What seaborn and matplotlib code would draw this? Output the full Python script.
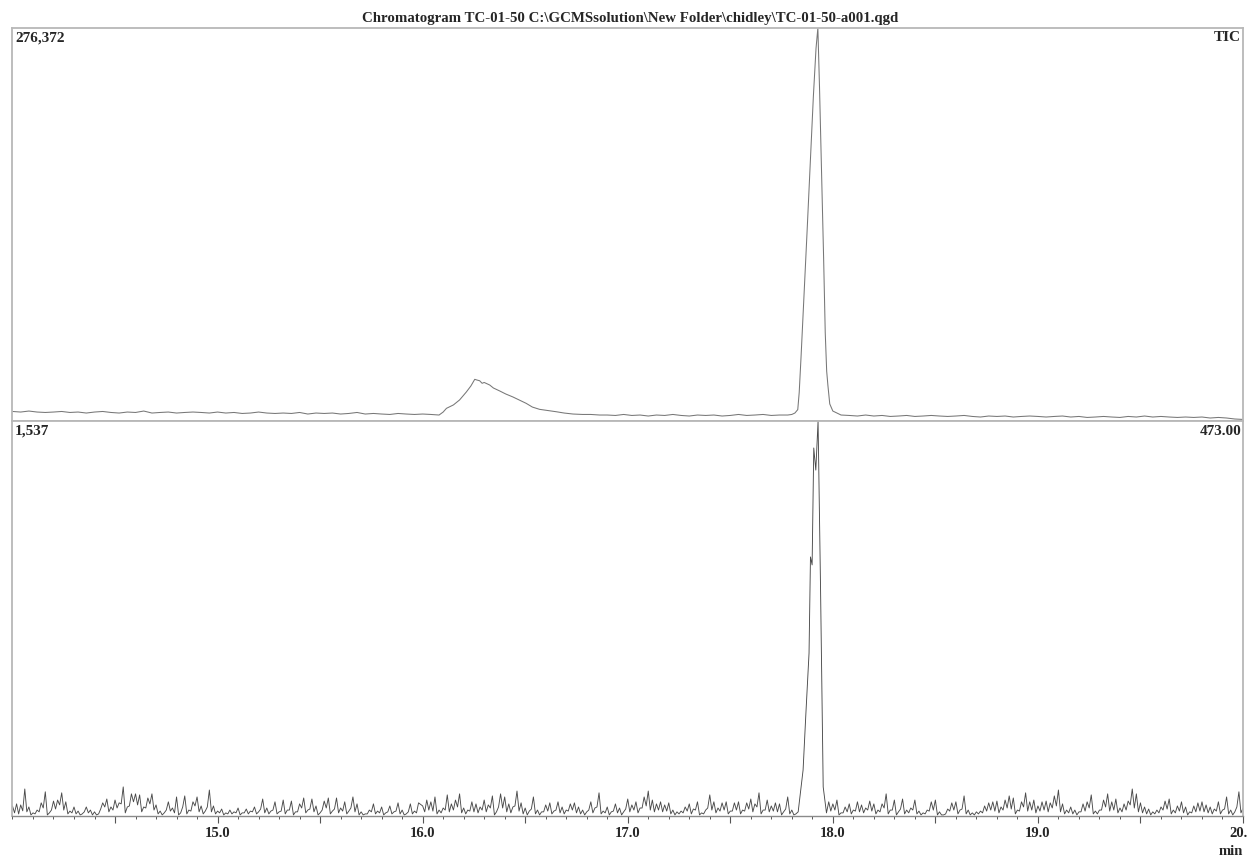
import numpy as np
import pandas as pd
import matplotlib
matplotlib.use("Agg")
import matplotlib.pyplot as plt
from matplotlib.ticker import MultipleLocator
from matplotlib.transforms import ScaledTranslation
import seaborn as sns

TITLE = r"Chromatogram TC-01-50 C:\GCMSsolution\New Folder\chidley\TC-01-50-a001.qgd"

# --- TIC trace (intensity in thousands of counts) ---
# baseline 14.00 -> 16.08 min, sampled every 0.04 min
tic_base_a = [6.7, 6.3, 7.0, 6.3, 6.0, 6.3, 6.7, 6.0, 6.3, 5.6,
              6.3, 6.7, 6.0, 5.6, 6.3, 6.0, 7.0, 5.6, 6.0, 6.3,
              5.6, 6.0, 6.3, 6.0, 5.6, 6.3, 5.6, 6.0, 5.3, 5.6,
              6.3, 5.6, 5.3, 5.6, 5.3, 6.0, 4.9, 5.6, 5.3, 5.6,
              4.9, 5.3, 6.0, 4.9, 5.3, 4.9, 4.6, 5.3, 4.9, 4.6,
              4.9, 4.6, 4.2]
# broad hump around 16.3 min
hump_time = [16.10, 16.116, 16.15, 16.18, 16.213, 16.235, 16.254, 16.265, 16.278,
             16.29, 16.30, 16.327, 16.345, 16.376, 16.405, 16.44, 16.47, 16.505,
             16.535, 16.57, 16.61, 16.652, 16.69, 16.733, 16.78, 16.82, 16.863]
hump_value = [6.3, 8.9, 11.3, 14.8, 20.4, 24.6, 29.3, 28.8, 28.3,
              26.5, 27.1, 25.3, 23.2, 21.1, 19.0, 16.9, 14.8, 12.4,
              9.8, 8.2, 7.4, 6.5, 5.6, 4.9, 4.6, 4.6, 4.2]
# baseline 16.90 -> 17.78 min
tic_base_b = [4.2, 3.9, 4.6, 3.9, 4.2, 3.5, 4.2, 3.9, 4.6, 3.9,
              3.5, 4.2, 3.9, 4.2, 3.5, 3.9, 4.6, 3.9, 4.2, 4.6,
              3.9, 4.2, 4.2]
# main peak at 17.93 min
peak_time = [17.80, 17.815, 17.829, 17.836, 17.845, 17.860, 17.875, 17.890, 17.905,
             17.918, 17.927, 17.935, 17.945, 17.955, 17.963, 17.970, 17.976, 17.985, 18.00]
peak_value = [4.6, 5.6, 8.0, 20.0, 45.0, 90.0, 135.0, 182.0, 228.0,
              262.0, 276.37, 235.0, 175.0, 115.0, 62.0, 35.0, 25.0, 12.0, 7.0]
# baseline 18.04 -> 20.00 min
tic_base_c = [4.2, 3.9, 3.5, 4.2, 3.5, 3.9, 3.2, 3.5, 3.9, 3.2,
              3.5, 3.9, 3.5, 3.2, 3.5, 3.9, 3.2, 2.8, 3.5, 3.2,
              3.5, 2.8, 3.2, 3.5, 3.2, 2.8, 3.2, 3.5, 2.8, 3.2,
              2.5, 2.8, 3.2, 2.8, 2.5, 3.2, 2.8, 3.5, 2.8, 3.2,
              2.8, 2.5, 2.8, 2.5, 2.8, 2.1, 2.5, 2.1, 1.4, 1.1]

# --- m/z 473.00 trace (counts), scans every 0.01 min ---
# 14.00 -> 15.98 min: even scans / odd scans
ion_a_even = [39, 47, 43, 105, 35, 12, 23, 51, 94, 12,
              58, 62, 90, 55, 19, 35, 19, 8, 35, 23,
              16, 8, 51, 66, 35, 62, 51, 113, 35, 86,
              86, 82, 35, 70, 86, 43, 19, 12, 55, 31,
              74, 12, 78, 23, 55, 74, 39, 19, 101, 39,
              19, 27, 12, 23, 16, 31, 12, 27, 19, 35,
              16, 66, 31, 19, 55, 16, 62, 23, 58, 16,
              47, 70, 23, 66, 39, 12, 58, 70, 19, 70,
              31, 55, 19, 74, 47, 16, 8, 23, 47, 19,
              35, 12, 39, 16, 51, 23, 8, 47, 19, 51]
ion_a_odd = [12, 8, 20, 16, 4, 8, 16, 31, 4, 23,
             27, 43, 23, 8, 12, 8, 4, 16, 12, 4,
             4, 27, 35, 16, 23, 31, 47, 12, 39, 55,
             43, 16, 31, 47, 23, 8, 4, 23, 19, 12,
             4, 35, 8, 19, 39, 16, 8, 35, 16, 8,
             12, 4, 8, 8, 12, 4, 12, 8, 16, 8,
             27, 12, 8, 23, 8, 19, 8, 23, 4, 16,
             31, 12, 27, 16, 4, 23, 31, 8, 27, 12,
             19, 8, 31, 16, 4, 4, 8, 16, 8, 12,
             4, 16, 8, 19, 8, 4, 16, 8, 12]
# 16.00 -> 17.82 min
ion_b_even = [39, 62, 55, 74, 23, 31, 82, 47, 62, 86,
              31, 23, 55, 47, 35, 62, 43, 78, 16, 86,
              74, 47, 35, 97, 51, 31, 19, 74, 23, 16,
              43, 51, 19, 55, 35, 23, 47, 51, 35, 23,
              16, 55, 31, 90, 19, 35, 16, 47, 31, 16,
              66, 43, 55, 31, 74, 97, 62, 47, 55, 43,
              51, 23, 16, 19, 35, 47, 27, 55, 12, 23,
              82, 55, 31, 51, 55, 19, 51, 55, 23, 51,
              66, 47, 90, 23, 62, 39, 51, 47, 16, 74,
              23, 8]
ion_b_odd = [16, 23, 19, 8, 12, 23, 16, 23, 35, 12,
             8, 19, 16, 12, 23, 16, 31, 4, 35, 31,
             16, 12, 39, 19, 8, 4, 27, 8, 4, 16,
             19, 8, 23, 12, 8, 19, 23, 12, 8, 4,
             23, 12, 35, 8, 12, 4, 19, 12, 4, 27,
             16, 23, 12, 31, 39, 23, 16, 23, 16, 19,
             8, 4, 8, 12, 19, 8, 23, 4, 8, 31,
             23, 12, 19, 23, 8, 19, 23, 8, 19, 27,
             16, 35, 8, 23, 16, 19, 16, 4, 27, 8,
             4]
# the 473 peak
ion_peak_time = [17.831, 17.855, 17.868, 17.884, 17.891, 17.899, 17.907, 17.917,
                 17.928, 17.940, 17.953, 17.969]
ion_peak_value = [16, 179, 389, 634, 1008, 977, 1432, 1346, 1537, 891, 113, 12]
# 17.98 -> 20.00 min
ion_c_even = [55, 47, 62, 12, 35, 47, 23, 55, 43, 31,
              58, 47, 23, 47, 86, 23, 62, 16, 66, 23,
              31, 62, 19, 12, 23, 55, 62, 16, 4, 27,
              51, 55, 23, 78, 23, 12, 16, 19, 39, 51,
              55, 58, 35, 62, 78, 70, 23, 55, 90, 55,
              62, 39, 55, 58, 51, 78, 101, 47, 23, 35,
              23, 16, 47, 55, 82, 19, 23, 62, 86, 55,
              66, 31, 47, 58, 105, 86, 51, 35, 27, 16,
              23, 35, 58, 66, 23, 39, 55, 35, 16, 39,
              51, 55, 43, 35, 27, 55, 23, 74, 23, 16,
              94, 31]
ion_c_odd = [19, 23, 4, 12, 16, 8, 19, 16, 12, 23,
             19, 8, 16, 31, 8, 23, 4, 27, 8, 12,
             23, 8, 4, 8, 19, 23, 4, 4, 8, 19,
             23, 8, 27, 8, 4, 4, 8, 12, 19, 23,
             19, 12, 23, 31, 27, 8, 19, 35, 19, 23,
             12, 19, 23, 16, 31, 39, 16, 8, 12, 8,
             4, 16, 19, 31, 8, 8, 23, 35, 19, 23,
             12, 16, 23, 43, 31, 16, 12, 8, 4, 8,
             12, 23, 27, 8, 12, 19, 12, 4, 12, 16,
             19, 16, 12, 8, 19, 8, 27, 8, 4, 35,
             12]

TIC_MAX = 276.372
ION_MAX = 1537
tick_pos = [14.5, 15.0, 15.5, 16.0, 16.5, 17.0, 17.5, 18.0, 18.5, 19.0, 19.5, 20.0]
tick_text = ["", "15.0", "", "16.0", "", "17.0", "", "18.0", "", "19.0", "", "20."]


def merge_scans(even, odd):
    out = []
    for i, v in enumerate(even):
        out.append(v)
        if i < len(odd):
            out.append(odd[i])
    return out


tic = pd.DataFrame({
    "time": np.concatenate([np.linspace(14.0, 16.08, len(tic_base_a)), hump_time,
                            np.linspace(16.90, 17.78, len(tic_base_b)), peak_time,
                            np.linspace(18.04, 20.0, len(tic_base_c))]),
    "intensity": np.concatenate([tic_base_a, hump_value, tic_base_b, peak_value, tic_base_c]),
})

ion_a = merge_scans(ion_a_even, ion_a_odd)
ion_b = merge_scans(ion_b_even, ion_b_odd)
ion_c = merge_scans(ion_c_even, ion_c_odd)
ion = pd.DataFrame({
    "time": np.concatenate([np.linspace(14.0, 15.98, len(ion_a)),
                            np.linspace(16.0, 17.82, len(ion_b)), ion_peak_time,
                            np.linspace(17.98, 20.0, len(ion_c))]),
    "intensity": np.concatenate([ion_a, ion_b, ion_peak_value, ion_c]),
})

sns.set_style("white")
plt.rcParams["font.family"] = ["Liberation Serif", "DejaVu Serif"]
plt.rcParams["font.weight"] = "bold"

fig = plt.figure(figsize=(12.48, 8.59), dpi=100)
ax_tic = fig.add_axes([0.0100, 0.5099, 0.9860, 0.4575])
ax_ion = fig.add_axes([0.0100, 0.0501, 0.9860, 0.4598])

sns.lineplot(data=tic, x="time", y="intensity", ax=ax_tic, estimator=None, sort=False,
             color="#777777", linewidth=0.75)
sns.lineplot(data=ion, x="time", y="intensity", ax=ax_ion, estimator=None, sort=False,
             color="#4a4a4a", linewidth=0.65)

for ax in (ax_tic, ax_ion):
    ax.set_xlim(14.0, 20.0)
    ax.set_xlabel("")
    ax.set_ylabel("")
    ax.set_yticks([])
    for s in ax.spines.values():
        s.set_color("#b8b8b8")
        s.set_linewidth(1.3)

ax_tic.set_ylim(0, TIC_MAX)
ax_ion.set_ylim(0, ION_MAX)
ax_tic.tick_params(bottom=False, labelbottom=False)

ax_ion.spines["bottom"].set_color("#8a8a8a")
ax_ion.spines["bottom"].set_linewidth(1.0)
ax_ion.set_xticks(tick_pos, tick_text)
ax_ion.xaxis.set_minor_locator(MultipleLocator(0.1))
ax_ion.tick_params(axis="x", which="major", bottom=True, direction="out", length=4.8,
                   width=0.8, color="#555555", pad=3.0, labelsize=10.5)
ax_ion.tick_params(axis="x", which="minor", bottom=True, direction="out", length=2.2,
                   width=0.7, color="#555555")
# last label is shown cut at the right edge, as "20."
last = ax_ion.xaxis.get_major_ticks()[-1].label1
last.set_horizontalalignment("left")
last.set_transform(last.get_transform() + ScaledTranslation(-14 / 100, 0, fig.dpi_scale_trans))

fig.text(0.505, 0.978, TITLE, ha="center", va="center", fontsize=10.7, fontweight="bold")
ax_tic.text(0.002, 0.992, "276,372", transform=ax_tic.transAxes, ha="left", va="top",
            fontsize=11, fontweight="bold")
ax_tic.text(0.998, 0.992, "TIC", transform=ax_tic.transAxes, ha="right", va="top",
            fontsize=11, fontweight="bold")
ax_ion.text(0.002, 0.990, "1,537", transform=ax_ion.transAxes, ha="left", va="top",
            fontsize=11, fontweight="bold")
ax_ion.text(0.999, 0.990, "473.00", transform=ax_ion.transAxes, ha="right", va="top",
            fontsize=11, fontweight="bold")
fig.text(0.996, 0.009, "min", ha="right", va="center", fontsize=10.5, fontweight="bold")

fig.savefig("out.png", dpi=100)
